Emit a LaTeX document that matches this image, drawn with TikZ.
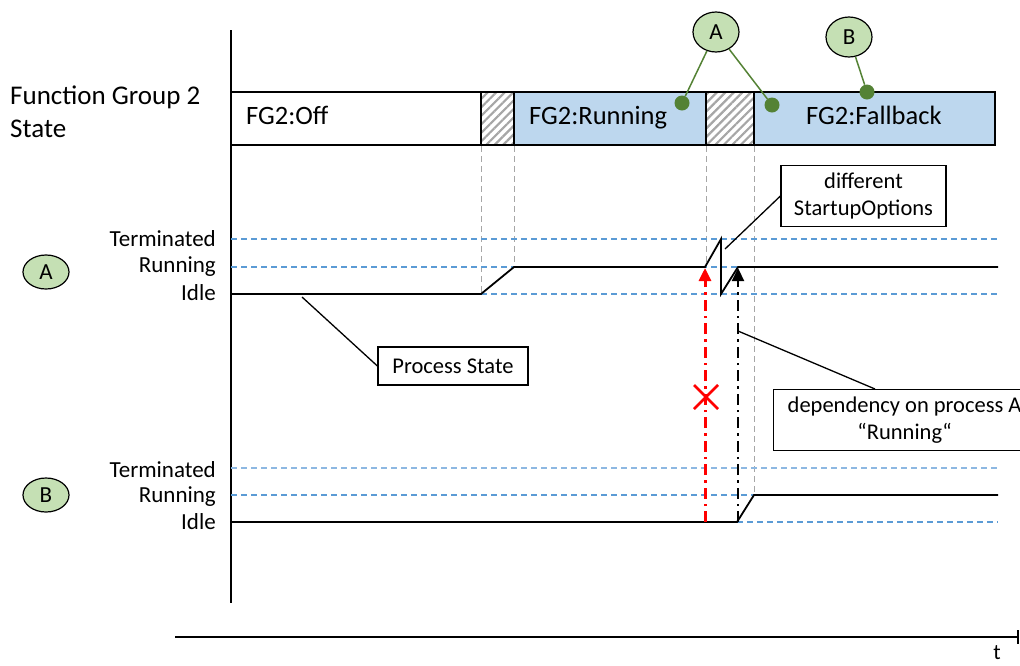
\documentclass[tikz,border=0pt]{standalone}
\usepackage{fontspec}
\setmainfont{Carlito}
\usetikzlibrary{patterns.meta,arrows.meta,shapes.geometric}
\definecolor{barblue}{HTML}{BDD7EE}
\definecolor{lgreen}{HTML}{C5E0B4}
\definecolor{dgreen}{HTML}{548235}
\definecolor{lvlblue}{HTML}{5B9BD5}
\definecolor{lvlblue2}{HTML}{8DB8E2}
\definecolor{hatchgray}{HTML}{A6A6A6}
\tikzset{
  statebox/.style={draw=black,line width=1.6pt},
  hatchbox/.style={draw=black,line width=1.6pt,pattern={Lines[angle=45,distance=6pt,line width=2.2pt]},pattern color=hatchgray},
  sig/.style={line width=1.8pt,black},
  lvl/.style={dash pattern=on 6pt off 4pt,line width=1.1pt,lvlblue},
  lvlt/.style={dash pattern=on 6pt off 4pt,line width=1.1pt,lvlblue2},
  gline/.style={dash pattern=on 6pt off 4pt,line width=1pt,hatchgray},
  callout/.style={draw=black,line width=1.2pt,fill=white,align=center,font=\fontsize{22.5}{27}\selectfont,inner sep=0pt},
  tag/.style={ellipse,draw=black,line width=1.2pt,fill=lgreen,minimum width=46pt,minimum height=34pt,inner sep=0pt,font=\fontsize{23}{26}\selectfont},
  gdot/.style={circle,fill=dgreen,minimum size=15pt,inner sep=0pt},
  lvltext/.style={anchor=base east,inner sep=0pt,font=\fontsize{23}{26}\selectfont},
  bartext/.style={anchor=base west,inner sep=0pt,font=\fontsize{26.5}{31}\selectfont},
}
\begin{document}
\begin{tikzpicture}[x=1pt,y=-1pt]
\useasboundingbox (0,0) rectangle (1020,665);
% axes
\draw[line width=1.5pt] (231,30) -- (231,603);
\coordinate (t0) at (175,637);
\coordinate (t1) at (1018,637);
\draw[line width=1.5pt] (t0) -- (t1);
\draw[line width=1.5pt] (1018,630) -- (1018,644);
\node[inner sep=0pt,anchor=base,font=\fontsize{22}{26}\selectfont] (tl) at (997,659) {t};
% title
\node[anchor=north west,align=left,inner sep=0pt,font=\fontsize{27}{33}\selectfont] (title) at (10,86) {Function Group 2\\State};
% state bar
\draw[statebox,fill=white] (231,92) rectangle (481,145);
\draw[hatchbox] (481,92) rectangle (514,145);
\draw[statebox,fill=barblue] (514,92) rectangle (706,145);
\draw[hatchbox] (706,92) rectangle (754,145);
\draw[statebox,fill=barblue] (754,92) rectangle (995,145);
\node[bartext] (off) at (246,124) {FG2:Off};
\node[bartext] (run) at (529,124) {FG2:Running};
\node[bartext] (fb) at (806,124) {FG2:Fallback};
% gray vertical guides
\draw[gline] (481,146) -- (481,294);
\draw[gline] (514,146) -- (514,267);
\draw[gline] (706,146) -- (706,267);
\draw[gline] (754,146) -- (754,495);
% level lines A
\draw[lvl] (231,239) -- (998,239);
\draw[lvl] (231,267) -- (998,267);
\draw[lvl] (481,294) -- (998,294);
% level lines B
\draw[lvlt] (231,468) -- (998,468);
\draw[lvl] (231,495) -- (998,495);
\draw[lvl] (737,522) -- (998,522);
% level labels
\node[lvltext] (aT) at (216,246) {Terminated};
\node[lvltext] (aR) at (216,272) {Running};
\node[lvltext] (aI) at (216,300) {Idle};
\node[lvltext] (bT) at (216,477) {Terminated};
\node[lvltext] (bR) at (216,502) {Running};
\node[lvltext] (bI) at (216,529) {Idle};
% tags left
\node[tag] (tagA) at (46,272) {A};
\node[tag] (tagB) at (46,495) {B};
% signal A
\draw[sig] (231,294) -- (481,294) -- (514,267) -- (705,267) -- (721,239) -- (721,294) -- (738,267) -- (998,267);
% signal B
\draw[sig] (231,522) -- (737,522) -- (754,495) -- (998,495);
% arrows
\coordinate (rA) at (705,522);
\coordinate (rB) at (705,268);
\draw[red,line width=3pt,dash pattern=on 11pt off 5pt on 2.5pt off 5pt,-{Triangle[width=12pt,length=13pt]}] (rA) -- (rB);
\coordinate (kA) at (738,522);
\coordinate (kB) at (738,268);
\draw[black,line width=2.2pt,dash pattern=on 11pt off 5pt on 2.5pt off 5pt,-{Triangle[width=12pt,length=13pt]}] (kA) -- (kB);
% red cross
\draw[red,line width=2.6pt] (694,385) -- (718,409) (694,409) -- (718,385);
% top tags
\node[tag,minimum height=40pt] (topA) at (716,32) {A};
\node[tag,minimum height=40pt] (topB) at (849,37) {B};
\node[gdot] (dA1) at (682,103) {};
\node[gdot] (dA2) at (772,105) {};
\node[gdot] (dB) at (867,92) {};
\draw[dgreen,line width=1.5pt] (topA) -- (dA1);
\draw[dgreen,line width=1.5pt] (topA) -- (dA2);
\draw[dgreen,line width=1.5pt] (topB) -- (dB);
% callouts
\node[callout,minimum width=165pt,minimum height=61pt] (so) at (863.5,196) {different\\StartupOptions};
\coordinate (soP) at (725,249);
\draw[line width=1.3pt] (soP) -- (so.west);
\node[callout,minimum width=150pt,minimum height=38pt] (ps) at (453,366) {Process State};
\coordinate (psP) at (302,297);
\draw[line width=1.3pt] (psP) -- (ps.west);
\node[callout,anchor=north west,minimum width=262pt,minimum height=61pt] (dep) at (773,389) {dependency on process A\\“Running“};
\coordinate (depP) at (738,331);
\coordinate (depQ) at (875,389);
\draw[line width=1.3pt] (depP) -- (depQ);
\end{tikzpicture}
\end{document}
